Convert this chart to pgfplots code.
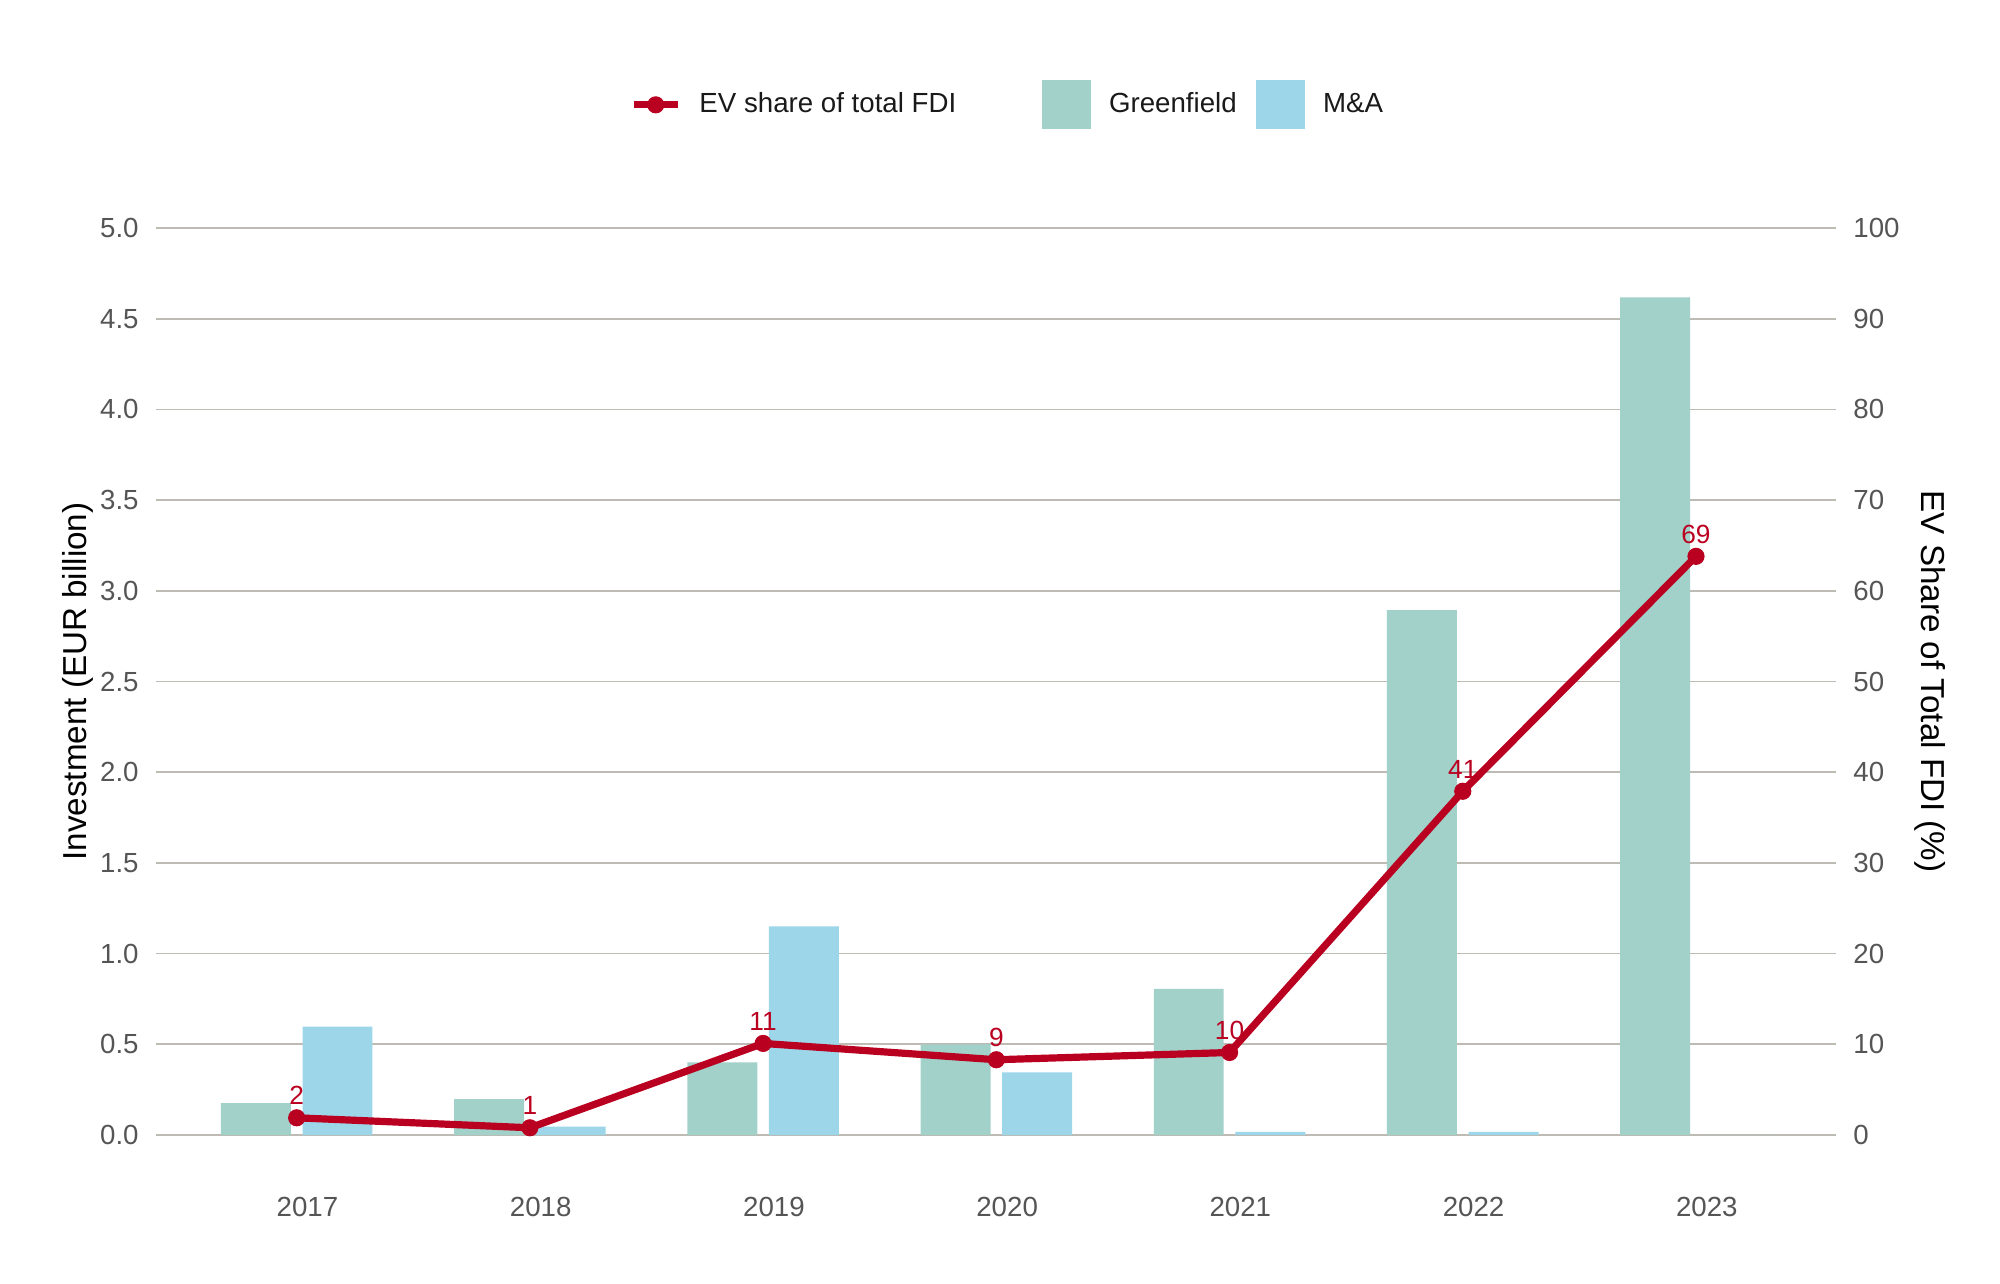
\documentclass[border=0pt]{standalone}
\usepackage{fontspec}
\setmainfont{Liberation Sans}
\usepackage{pgfplots}
\pgfplotsset{compat=1.18}

\definecolor{gfcol}{RGB}{162,209,202}
\definecolor{macol}{RGB}{157,214,233}
\definecolor{evred}{RGB}{186,0,32}
\definecolor{gridcol}{RGB}{190,186,180}
\definecolor{tickcol}{RGB}{85,85,85}

\pgfplotsset{
  common/.style={
    width=607.1pt, height=327.8pt, scale only axis,
    xmin=2016.397, xmax=2023.60,
    axis line style={draw=none},
    major tick length=0,
    /pgf/number format/assume math mode=true,
    ticklabel style={font=\fontsize{10}{12}\selectfont, text=tickcol},
  },
}

\begin{document}
\begin{tikzpicture}
\begin{axis}[
  common,
  name=main,
  ymin=0, ymax=5,
  ytick={0,0.5,1,1.5,2,2.5,3,3.5,4,4.5,5},
  yticklabels={0.0,0.5,1.0,1.5,2.0,2.5,3.0,3.5,4.0,4.5,5.0},
  xtick={2017,2018,2019,2020,2021,2022,2023},
  xticklabels={2017,2018,2019,2020,2021,2022,2023},
  xticklabel style={anchor=center, yshift=-26pt, xshift=3.9pt},
  yticklabel style={anchor=east, inner sep=0pt, xshift=-6.1pt},
  ymajorgrids, grid style={gridcol, line width=0.6pt},
  ylabel={Investment (EUR billion)},
  ylabel style={at={(axis description cs:0,0.5)}, anchor=center, yshift=28.4pt,
    font=\fontsize{12}{14}\selectfont},
]
% Greenfield
\addplot[ybar, bar width=0.3, bar shift=-0.175, fill=gfcol, draw=none]
  coordinates {(2017,0.176)(2018,0.198)(2019,0.40)(2020,0.50)(2021,0.806)(2022,2.894)(2023,4.617)};
% M&A
\addplot[ybar, bar width=0.3, bar shift=0.175, fill=macol, draw=none]
  coordinates {(2017,0.597)(2018,0.046)(2019,1.15)(2020,0.345)(2021,0.017)(2022,0.017)(2023,0)};
\end{axis}

\begin{axis}[
  common,
  ymin=0, ymax=100,
  ytick={0,10,...,100},
  hide x axis,
  yticklabel pos=right,
  yticklabel style={anchor=west, inner sep=0pt, xshift=6.1pt},
  ylabel={EV Share of Total FDI (\%)},
  ylabel style={at={(axis description cs:1,0.5)}, anchor=center, yshift=-34pt,
    rotate=180, font=\fontsize{12}{14}\selectfont},
  legend style={at={(0.508,1)}, anchor=center, yshift=44.5pt, draw=none, fill=none,
    font=\fontsize{10}{12}\selectfont, text=black!90,
    /tikz/column 1/.style={column sep=4.6pt},
    /tikz/column 2/.style={column sep=29pt},
    /tikz/column 3/.style={column sep=4.6pt},
    /tikz/column 4/.style={column sep=5pt},
    /tikz/column 5/.style={column sep=4.6pt}},
  legend columns=3,
]
\addplot[evred, line width=2.6pt, mark=*, mark size=2.9pt, mark options={line width=0.4pt},
  nodes near coords, point meta=explicit symbolic,
  nodes near coords style={evred, font=\fontsize{9.5}{11}\selectfont, anchor=south,
    inner sep=1pt, yshift=3.5pt},
  legend image code/.code={\draw[mark repeat=2,mark phase=2]
    plot coordinates {(0pt,0pt)(7.9pt,0pt)(15.8pt,0pt)};}]
  coordinates {(2017,1.9)[2] (2018,0.8)[1] (2019,10.1)[11] (2020,8.3)[9]
               (2021,9.1)[10] (2022,37.9)[41] (2023,63.8)[69]};
\addlegendentry{EV share of total FDI}
\addlegendimage{draw=none, legend image code/.code={\path[draw=none, fill=gfcol] (0pt,-8.8pt) rectangle (17.6pt,8.8pt);}}
\addlegendentry{Greenfield}
\addlegendimage{draw=none, legend image code/.code={\path[draw=none, fill=macol] (0pt,-8.8pt) rectangle (17.6pt,8.8pt);}}
\addlegendentry{M\&A}
\end{axis}

\pgfresetboundingbox
\path[use as bounding box] ([xshift=-56.4pt,yshift=-53.8pt]main.south west)
  rectangle ([xshift=59.3pt,yshift=82.4pt]main.north east);
\end{tikzpicture}
\end{document}
